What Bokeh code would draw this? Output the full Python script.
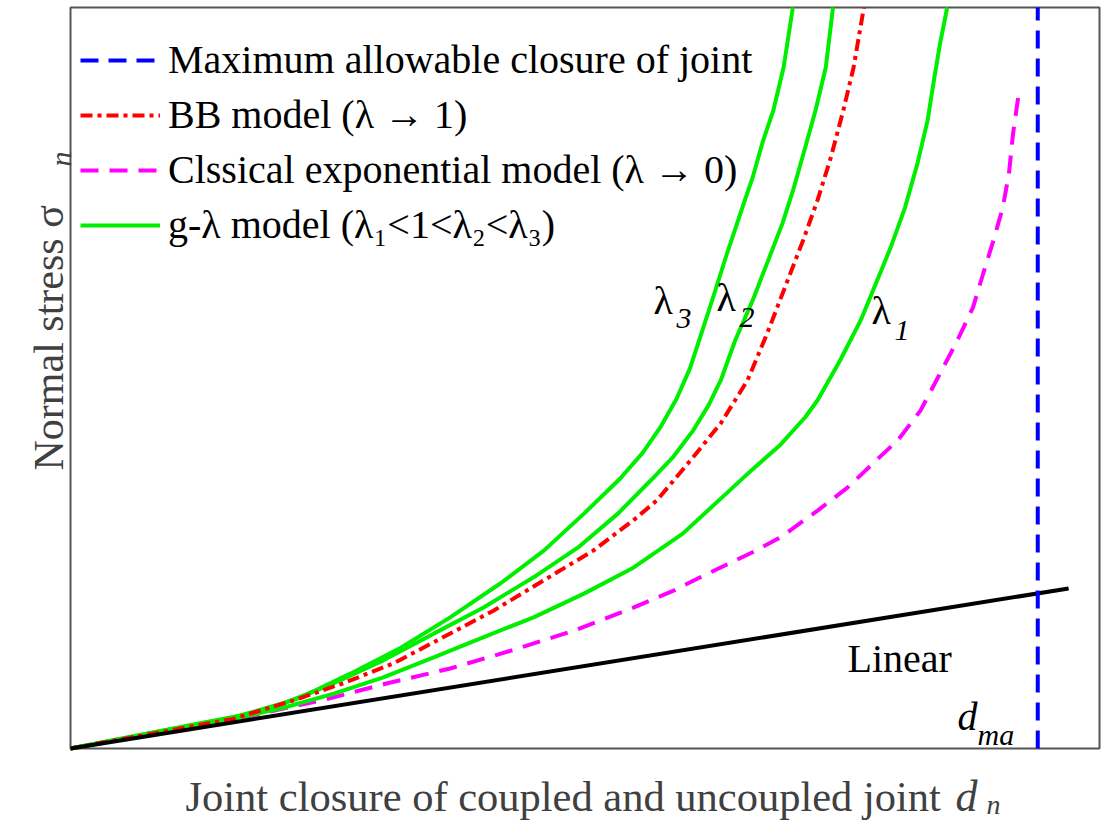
import math

from bokeh.plotting import figure
from bokeh.models import Range1d, Label, Legend, LegendItem, BoxAnnotation
from bokeh.embed import file_html
from bokeh.resources import INLINE

# Joint closure d_n (normalised 0..1) against normal stress sigma_n (normalised 0..1)

lam3_x = [0.0, 0.126, 0.175, 0.224, 0.272, 0.321, 0.369, 0.418, 0.460, 0.499, 0.534, 0.556, 0.573,
          0.589, 0.602, 0.611, 0.625, 0.638, 0.651, 0.663, 0.673, 0.683, 0.693, 0.702]
lam3_y = [0.0, 0.034, 0.047, 0.069, 0.101, 0.136, 0.177, 0.223, 0.267, 0.317, 0.364, 0.399, 0.433,
          0.472, 0.513, 0.551, 0.611, 0.668, 0.722, 0.771, 0.820, 0.861, 0.919, 1.000]

lam2_x = [0.0, 0.158, 0.207, 0.256, 0.304, 0.353, 0.401, 0.450, 0.493, 0.532, 0.564, 0.586, 0.605,
          0.620, 0.632, 0.646, 0.663, 0.677, 0.692, 0.703, 0.714, 0.724, 0.734, 0.741]
lam2_y = [0.0, 0.042, 0.061, 0.088, 0.119, 0.155, 0.190, 0.231, 0.271, 0.317, 0.362, 0.394, 0.429,
          0.463, 0.497, 0.551, 0.605, 0.655, 0.709, 0.757, 0.811, 0.861, 0.919, 1.000]

bb_x = [0.0, 0.158, 0.217, 0.265, 0.314, 0.362, 0.411, 0.460, 0.508, 0.547, 0.570, 0.605, 0.632,
        0.658, 0.677, 0.697, 0.712, 0.726, 0.739, 0.751, 0.761, 0.771]
bb_y = [0.0, 0.040, 0.065, 0.088, 0.115, 0.150, 0.186, 0.227, 0.267, 0.308, 0.335, 0.393, 0.439,
        0.497, 0.560, 0.632, 0.686, 0.740, 0.798, 0.861, 0.919, 1.000]

lam1_x = [0.0, 0.158, 0.207, 0.256, 0.304, 0.353, 0.401, 0.450, 0.499, 0.547, 0.595, 0.638, 0.663,
          0.690, 0.714, 0.726, 0.748, 0.768, 0.784, 0.797, 0.811, 0.823, 0.833, 0.839, 0.845, 0.852]
lam1_y = [0.0, 0.040, 0.055, 0.074, 0.096, 0.123, 0.150, 0.177, 0.209, 0.244, 0.290, 0.345, 0.377,
          0.410, 0.447, 0.470, 0.524, 0.578, 0.632, 0.676, 0.730, 0.789, 0.848, 0.901, 0.951, 1.000]

exp_x = [0.0, 0.153, 0.191, 0.250, 0.308, 0.369, 0.428, 0.489, 0.547, 0.586, 0.612, 0.666, 0.690,
         0.726, 0.755, 0.780, 0.804, 0.826, 0.845, 0.862, 0.877, 0.887, 0.897, 0.906, 0.912, 0.916, 0.921]
exp_y = [0.0, 0.038, 0.049, 0.067, 0.088, 0.108, 0.132, 0.159, 0.190, 0.213, 0.231, 0.267, 0.285,
         0.321, 0.352, 0.385, 0.416, 0.456, 0.506, 0.551, 0.595, 0.641, 0.686, 0.730, 0.776, 0.830, 0.879]

linear_x = [0.0, 0.970]
linear_y = [0.0, 0.216]

d_max = 0.940
d_max_span = [0.0, 1.0]

legend_labels = [
    "Maximum allowable closure of joint",
    "BB model (\u03bb \u2192 1)",
    "Clssical exponential model (\u03bb \u2192 0)",
    "g-\u03bb model (\u03bb\u2081<1<\u03bb\u2082<\u03bb\u2083)",
]

SERIF = "Liberation Serif"
GREEN = "#00ee00"
AX = "#404040"

# the frame spans the whole canvas; the framed plot box is drawn as an annotation
W, H = 1104, 822
BOX_L, BOX_R, BOX_T, BOX_B = 70, 1099, 7, 748


def px_x(v):
    return (v - BOX_L) / (BOX_R - BOX_L)


def px_y(v):
    return (BOX_B - v) / (BOX_B - BOX_T)


p = figure(
    frame_width=W, frame_height=H, min_border=0,
    x_range=Range1d(px_x(0), px_x(W)), y_range=Range1d(px_y(H), px_y(0)),
    output_backend="svg", toolbar_location=None,
)
p.xaxis.visible = False
p.yaxis.visible = False
p.grid.visible = False
p.outline_line_color = None
p.background_fill_color = "white"
p.border_fill_color = "white"

p.add_layout(BoxAnnotation(left=0, right=1, bottom=0, top=1, fill_alpha=0,
                           line_color="#555555", line_alpha=1.0, line_width=2, level="underlay"))

r_exp = p.line(exp_x, exp_y, line_color="#ff00ff", line_width=4, line_dash="18 11")
r_l1 = p.line(lam1_x, lam1_y, line_color=GREEN, line_width=4)
r_l2 = p.line(lam2_x, lam2_y, line_color=GREEN, line_width=4)
r_l3 = p.line(lam3_x, lam3_y, line_color=GREEN, line_width=4)
r_bb = p.line(bb_x, bb_y, line_color="#ff0000", line_width=4, line_dash="12 5 4 5")
r_lin = p.line(linear_x, linear_y, line_color="black", line_width=4)
r_max = p.line([d_max, d_max], d_max_span, line_color="#0000ff", line_width=4, line_dash="18 10")

legend = Legend(
    items=[
        LegendItem(label=legend_labels[0], renderers=[r_max]),
        LegendItem(label=legend_labels[1], renderers=[r_bb]),
        LegendItem(label=legend_labels[2], renderers=[r_exp]),
        LegendItem(label=legend_labels[3], renderers=[r_l1]),
    ],
    location=(80, 574),
    margin=0, padding=0, spacing=8,
    glyph_width=80, glyph_height=46, label_height=46, label_standoff=8,
    label_text_font=SERIF, label_text_font_size="40px", label_text_color="black",
    border_line_alpha=0, background_fill_alpha=0,
)
p.add_layout(legend)


def add_text(text, x, y, size, italic=False, color="black", angle=0.0):
    p.add_layout(Label(
        x=px_x(x), y=px_y(y), text=text, text_font=SERIF, text_font_size=size,
        text_font_style="italic" if italic else "normal",
        text_color=color, angle=angle, text_align="left", text_baseline="alphabetic",
    ))


# curve tags
add_text("\u03bb", 653, 300, "40px")
add_text("3", 676, 318, "30px", italic=True)
add_text("\u03bb", 716, 297, "40px")
add_text("2", 739, 317, "30px", italic=True)
add_text("\u03bb", 871, 310, "40px")
add_text("1", 894, 330, "30px", italic=True)
add_text("Linear", 847, 658, "40px")
add_text("d", 957, 716, "40px", italic=True)
add_text("ma", 977, 734, "30px", italic=True)

# axis titles
add_text("Joint closure of coupled and uncoupled joint", 185, 796, "42.5px", color=AX)
add_text("d", 955, 796, "44px", italic=True, color=AX)
add_text("n", 986, 804, "28px", italic=True, color=AX)
add_text("Normal stress \u03c3", 48, 470, "42px", color=AX, angle=math.pi / 2)
add_text("n", 60, 166, "30px", italic=True, color=AX, angle=math.pi / 2)

open("out.html", "w").write(file_html(p, INLINE))
